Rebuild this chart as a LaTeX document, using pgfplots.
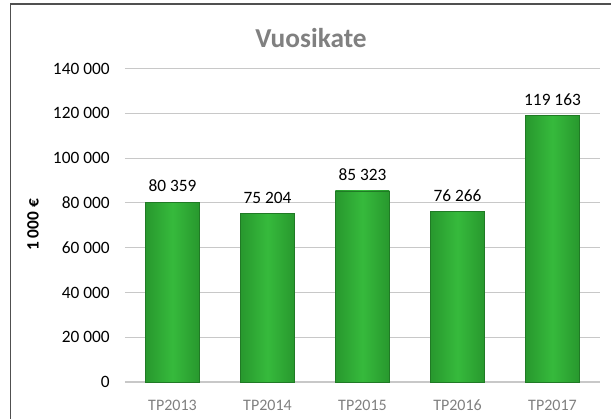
\documentclass[border=0pt]{standalone}
\usepackage{fontspec}
\setmainfont{Carlito}
\usepackage{pgfplots}
\pgfplotsset{compat=1.18}
\definecolor{barmid}{RGB}{54,186,60}
\definecolor{baredge}{RGB}{40,152,46}
\definecolor{gridgray}{RGB}{200,200,200}
\definecolor{titlegray}{RGB}{128,128,128}
\definecolor{framegray}{RGB}{80,80,80}
\pgfplotsset{
  greenbar/.style={ybar, bar width=40.5pt, draw=baredge!80!black, line width=0.3pt,
    left color=baredge, right color=baredge, middle color=barmid,
    nodes near coords, point meta=explicit symbolic,
    every node near coord/.append style={font=\fontsize{13}{15}\selectfont, text=black, yshift=4pt}},
}

\begin{document}
\begin{tikzpicture}[x=0.75pt,y=0.75pt]
% whole image is 611 x 419 px, 1 px = 0.75pt
\useasboundingbox (0,0) rectangle (611,419);
\draw[framegray, line width=0.9pt] (10.5,0) -- (10.5,415) -- (611,415);
\node[font=\fontsize{20.5}{23}\selectfont\bfseries, text=titlegray] at (311,381) {Vuosikate};
\node[rotate=90, font=\fontsize{13}{15}\selectfont\bfseries] at (33,194) {1\ 000 €};
\begin{axis}[
  at={(93.75pt,27.75pt)}, anchor=south west,
  scale only axis, width=356.25pt, height=235.1pt,
  xmin=-0.5, xmax=4.5, ymin=0, ymax=140000,
  axis x line*=bottom, axis y line*=left,
  x axis line style={draw=gridgray, line width=0.8pt},
  y axis line style={draw=none},
  xtick={0,1,2,3,4},
  xticklabels={TP2013,TP2014,TP2015,TP2016,TP2017},
  x tick label style={font=\fontsize{12}{14}\selectfont, text=titlegray,
    text height=8.5pt, text depth=0pt, yshift=-9.5pt},
  xtick style={draw=none},
  scaled y ticks=false,
  ytick={0,20000,40000,60000,80000,100000,120000,140000},
  yticklabels={0,20 000,40 000,60 000,80 000,100 000,120 000,140 000},
  y tick label style={font=\fontsize{13}{15}\selectfont, xshift=-8pt},
  ytick style={draw=none},
  ymajorgrids, grid style={gridgray, line width=0.7pt},
  clip=false,
]
\addplot[greenbar] coordinates {(0,80359) [80 359]};
\addplot[greenbar] coordinates {(1,75204) [75 204]};
\addplot[greenbar] coordinates {(2,85323) [85 323]};
\addplot[greenbar] coordinates {(3,76266) [76 266]};
\addplot[greenbar] coordinates {(4,119163) [119 163]};
\end{axis}
\end{tikzpicture}
\end{document}
